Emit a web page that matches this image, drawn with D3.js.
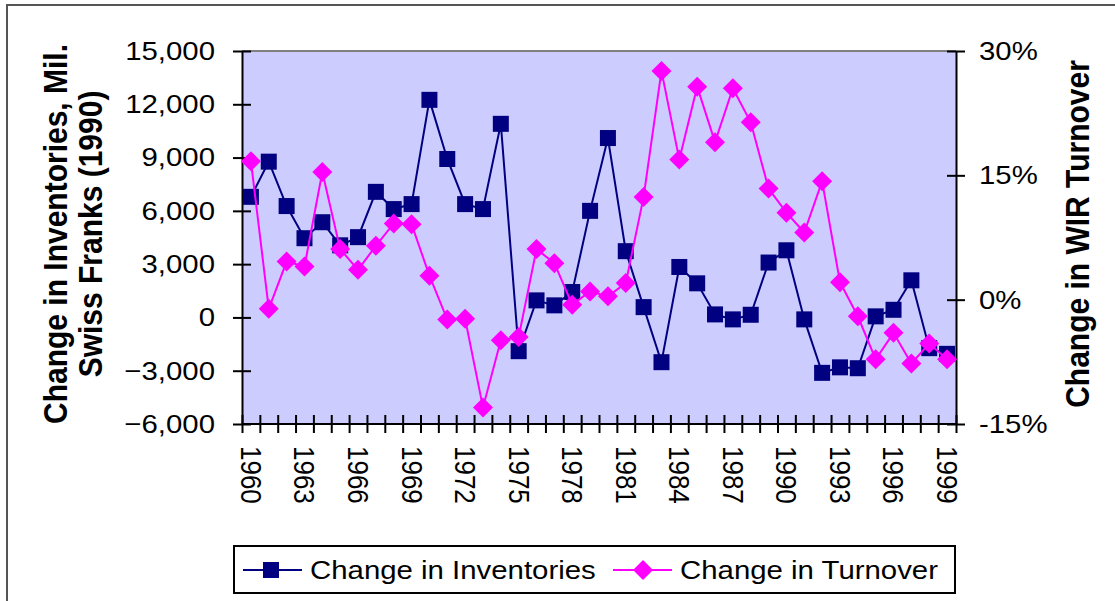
<!DOCTYPE html>
<html>
<head>
<meta charset="utf-8">
<script src="https://cdn.jsdelivr.net/npm/d3@7"></script>
<style>
  body { margin: 0; background: #fff; }
  text { font-family: "Liberation Sans", Arial, sans-serif; fill: #000; }
</style>
</head>
<body>
<div id="chart"></div>
<script>
// years on the x axis
var years = d3.range(1960, 2000);
var yearLabels = [1960, 1963, 1966, 1969, 1972, 1975, 1978, 1981, 1984, 1987, 1990, 1993, 1996, 1999];

// change in inventories, mil. CHF (1990)
var inventories = [6790, 8770, 6270, 4460, 5360, 4060, 4520, 7070, 6100, 6380,
  12250, 8920, 6380, 6100, 10900, -1900, 960, 680, 1430, 6000,
  10100, 3730, 580, -2520, 2840, 1920, 170, -110, 150, 3090,
  3780, -110, -3120, -2810, -2860, 60, 430, 2090, -1730, -2050];

// change in WIR turnover, %
var turnover = [16.7, -1.1, 4.6, 4.0, 15.4, 6.1, 3.6, 6.5, 9.2, 9.1,
  2.9, -2.4, -2.3, -13.0, -4.9, -4.5, 6.1, 4.4, -0.6, 1.0,
  0.4, 2.0, 12.4, 27.6, 16.9, 25.7, 19.0, 25.5, 21.4, 13.4,
  10.5, 8.1, 14.3, 2.1, -2.0, -7.2, -4.0, -7.7, -5.3, -7.2];

var leftTicks = [-6000, -3000, 0, 3000, 6000, 9000, 12000, 15000];
var rightTicks = [-15, 0, 15, 30];

var W = 1115, H = 601;
var plot = {left: 242, top: 51, right: 956, bottom: 424};
var SX = 1.13; // horizontal stretch of the original text
var navy = '#000080', pink = '#FF00FF';

var svg = d3.select('#chart').append('svg')
  .attr('width', W).attr('height', H);

// outer frame
svg.append('path')
  .attr('d', 'M7,' + (H + 5) + 'V5H' + (W + 5))
  .attr('fill', 'none').attr('stroke', '#555').attr('stroke-width', 2);

var x = d3.scaleBand().domain(years).range([plot.left, plot.right]);
var yL = d3.scaleLinear().domain([-6000, 15000]).range([plot.bottom, plot.top]);
var yR = d3.scaleLinear().domain([-15, 30]).range([plot.bottom, plot.top]);

// plot area
svg.append('rect')
  .attr('x', plot.left).attr('y', plot.top)
  .attr('width', plot.right - plot.left).attr('height', plot.bottom - plot.top)
  .attr('fill', '#CCCCFF');
svg.append('line')
  .attr('x1', plot.left).attr('x2', plot.right)
  .attr('y1', plot.top).attr('y2', plot.top)
  .attr('stroke', '#808080').attr('stroke-width', 2);

function stretched(sel, xPos, yPos, rot) {
  sel.attr('transform', 'translate(' + xPos + ',' + yPos + ') scale(' + SX + ',1)' + (rot ? ' rotate(' + rot + ')' : ''));
}

// left axis
var axL = svg.append('g').attr('transform', 'translate(' + plot.left + ',0)')
  .call(d3.axisLeft(yL).tickValues(leftTicks).tickFormat('').tickSizeInner(9).tickSizeOuter(0));
axL.selectAll('line').clone().attr('x2', 9);
axL.selectAll('line, path').attr('stroke', '#000').attr('stroke-width', 2);
leftTicks.forEach(function (v) {
  svg.append('text').text(d3.format(',')(v))
    .attr('text-anchor', 'end').attr('dominant-baseline', 'central')
    .style('font-size', '26px')
    .call(stretched, 215, yL(v));
});

// right axis
var axR = svg.append('g').attr('transform', 'translate(' + plot.right + ',0)')
  .call(d3.axisRight(yR).tickValues(rightTicks).tickFormat('').tickSizeInner(9).tickSizeOuter(0));
axR.selectAll('line').clone().attr('x2', -9);
axR.selectAll('line, path').attr('stroke', '#000').attr('stroke-width', 2);
rightTicks.forEach(function (v) {
  svg.append('text').text(v + '%')
    .attr('dominant-baseline', 'central')
    .style('font-size', '26px')
    .call(stretched, 979, yR(v));
});

// x axis: ticks on category boundaries
var bounds = years.map(function (y) { return x(y); }).concat([plot.right]);
var xb = d3.scaleLinear().domain([0, 1]).range([0, 1]);
var axX = svg.append('g').attr('transform', 'translate(0,' + plot.bottom + ')')
  .call(d3.axisBottom(xb).tickValues(bounds).tickFormat('').tickSizeInner(9).tickSizeOuter(0));
axX.select('.domain').attr('d', 'M' + plot.left + ',0H' + plot.right);
axX.selectAll('line').clone().attr('y2', -9);
axX.selectAll('line, path').attr('stroke', '#000').attr('stroke-width', 2);
yearLabels.forEach(function (yr) {
  svg.append('text').text(yr)
    .attr('dominant-baseline', 'central')
    .style('font-size', '26px')
    .call(stretched, x(yr) + x.bandwidth() / 2, 446, 90);
});

// axis titles
var leftTitle = svg.append('g');
[['Change in Inventories, Mil.', 55], ['Swiss Franks (1990)', 90]].forEach(function (t) {
  leftTitle.append('text').text(t[0])
    .attr('text-anchor', 'middle').attr('dominant-baseline', 'central')
    .style('font-size', '30px').style('font-weight', 'bold')
    .call(stretched, t[1], 234, -90);
});
svg.append('text').text('Change in WIR Turnover')
  .attr('text-anchor', 'middle').attr('dominant-baseline', 'central')
  .style('font-size', '30px').style('font-weight', 'bold')
  .call(stretched, 1077, 234, -90);

// series
var cx = function (d, i) { return x(years[i]) + x.bandwidth() / 2; };

svg.append('path').datum(inventories)
  .attr('fill', 'none').attr('stroke', navy).attr('stroke-width', 2)
  .attr('d', d3.line().x(cx).y(function (d) { return yL(d); }));
svg.append('g').selectAll('rect').data(inventories).join('rect')
  .attr('x', function (d, i) { return cx(d, i) - 8; })
  .attr('y', function (d) { return yL(d) - 8; })
  .attr('width', 16).attr('height', 16)
  .attr('fill', navy);

var diamond = d3.symbol().type(d3.symbolSquare).size(200);
svg.append('path').datum(turnover)
  .attr('fill', 'none').attr('stroke', pink).attr('stroke-width', 2)
  .attr('d', d3.line().x(cx).y(function (d) { return yR(d); }));
svg.append('g').selectAll('path').data(turnover).join('path')
  .attr('d', diamond)
  .attr('transform', function (d, i) { return 'translate(' + cx(d, i) + ',' + yR(d) + ') rotate(45)'; })
  .attr('fill', pink);

// legend
var lg = svg.append('g');
lg.append('rect').attr('x', 234).attr('y', 546).attr('width', 721).attr('height', 47)
  .attr('fill', '#fff').attr('stroke', '#000').attr('stroke-width', 2);
lg.append('line').attr('x1', 243).attr('x2', 302).attr('y1', 570).attr('y2', 570)
  .attr('stroke', navy).attr('stroke-width', 2);
lg.append('rect').attr('x', 263).attr('y', 562).attr('width', 16).attr('height', 16).attr('fill', navy);
lg.append('text').text('Change in Inventories')
  .attr('dominant-baseline', 'central').style('font-size', '26px')
  .call(stretched, 310, 570);
lg.append('line').attr('x1', 613).attr('x2', 672).attr('y1', 570).attr('y2', 570)
  .attr('stroke', pink).attr('stroke-width', 2);
lg.append('path').attr('d', diamond)
  .attr('transform', 'translate(643,570) rotate(45)').attr('fill', pink);
lg.append('text').text('Change in Turnover')
  .attr('dominant-baseline', 'central').style('font-size', '26px')
  .call(stretched, 680, 570);
</script>
</body>
</html>
